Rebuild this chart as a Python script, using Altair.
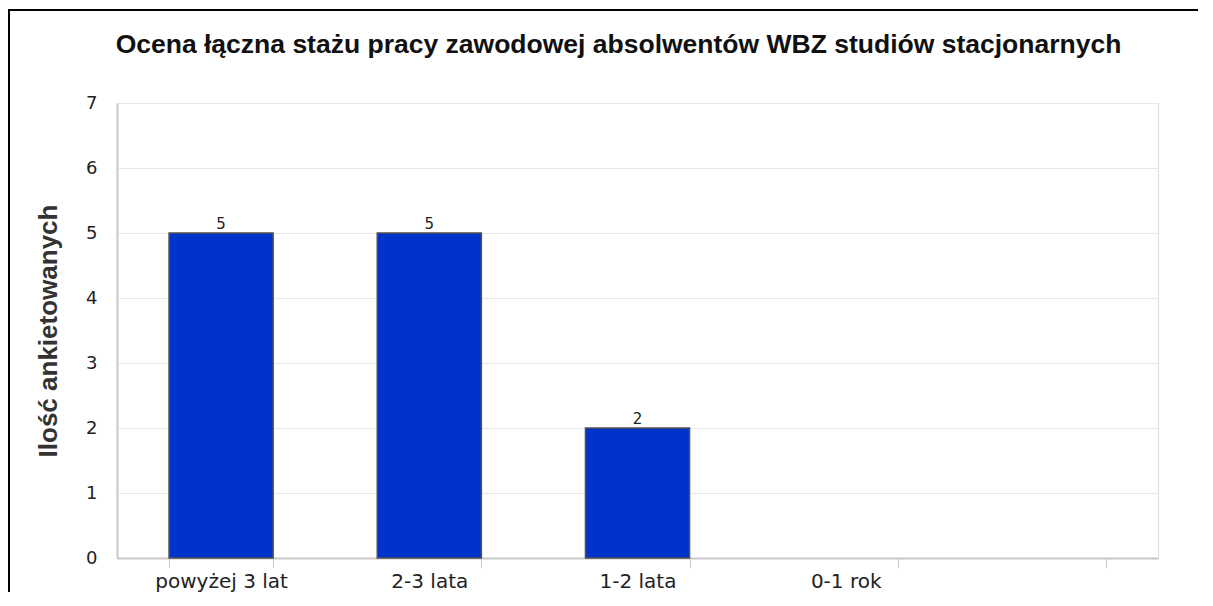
import altair as alt
import pandas as pd

categories = ["powyżej 3 lat", "2-3 lata", "1-2 lata", "0-1 rok", " "]
values = [5, 5, 2, None, None]
y_ticks = [0, 1, 2, 3, 4, 5, 6, 7]

df = pd.DataFrame({"kat": categories, "n": values})
bars_df = df.dropna()

xscale = alt.Scale(domain=categories, paddingInner=0.5, paddingOuter=0.25)
yscale = alt.Scale(domain=[0, 7], nice=False)

x_enc = alt.X("kat:N", sort=categories, scale=xscale,
              axis=alt.Axis(title=None, labelAngle=0, tickBand="extent", tickSize=10,
                            tickColor="#c8c8c8", domainColor="#c8c8c8", domainWidth=2,
                            labelFont="DejaVu Sans", labelFontSize=20, labelColor="#222222",
                            labelPadding=3, grid=False))
y_enc = alt.Y("n:Q", scale=yscale,
              axis=alt.Axis(title="Ilość ankietowanych", values=y_ticks, format="d", ticks=False,
                            domainColor="#c8c8c8", domainWidth=2,
                            gridColor="#e8e8e8", labelFont="DejaVu Sans", labelFontSize=18,
                            labelColor="#222222", labelPadding=20,
                            titleFont="Liberation Sans", titleFontSize=26, titleFontWeight="bold",
                            titleColor="#333333", titlePadding=24))

bars = alt.Chart(bars_df).mark_bar(color="#0033cc", stroke="#505050", strokeWidth=1.5).encode(
    x=x_enc, y=y_enc)

labels = alt.Chart(bars_df).mark_text(baseline="bottom", dy=-1, font="DejaVu Sans", fontSize=15,
                                      color="#222222").encode(
    x=alt.X("kat:N", sort=categories, scale=xscale), y=alt.Y("n:Q", scale=yscale), text="n:Q")

top_line = alt.Chart(bars_df).mark_rule(color="black", strokeWidth=2).encode(
    x=alt.value(-109), x2=alt.value(1084), y=alt.value(-93))
left_line = alt.Chart(bars_df).mark_rule(color="black", strokeWidth=2).encode(
    x=alt.value(-108), y=alt.value(-94), y2=alt.value(489))

chart = alt.layer(top_line, left_line, bars, labels).properties(
    width=1041, height=455,
    padding={"left": 109, "top": 95, "right": 40, "bottom": 34},
    autosize=alt.AutoSizeParams(type="none"),
    title=alt.TitleParams("Ocena łączna stażu pracy zawodowej absolwentów WBZ studiów stacjonarnych",
                          font="Liberation Sans", fontSize=26.5, fontWeight="bold", color="#111111",
                          anchor="middle", dx=-19, offset=-50),
).configure_view(stroke="#c8c8c8", strokeWidth=2).configure(background="white")

chart.save("out.html", embed_options={"renderer": "svg", "actions": False})
